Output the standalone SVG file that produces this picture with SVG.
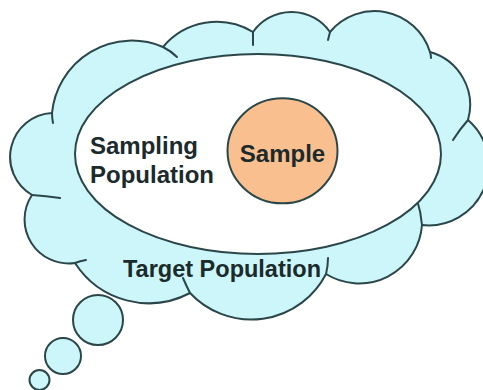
<svg xmlns="http://www.w3.org/2000/svg" width="483" height="390" viewBox="0 0 483 390">
  <style>
    .outline { stroke: #2b4649; stroke-width: 2; stroke-linecap: round; stroke-linejoin: round; }
    .cloud { fill: #ccf6fa; }
    .tick { fill: none; }
    .label { font-family: "Liberation Sans", Arial, Helvetica, sans-serif; font-weight: bold; fill: #1b2a2b; }
  </style>
  <rect width="483" height="390" fill="#ffffff"/>

  <!-- thought bubbles trailing from the cloud -->
  <g id="bubbles">
    <circle class="cloud outline" cx="98" cy="320" r="25"/>
    <circle class="cloud outline" cx="63" cy="356" r="18"/>
    <circle class="cloud outline" cx="39.5" cy="380" r="10"/>
  </g>

  <!-- outer cloud: target population -->
  <g id="target-population">
    <path class="cloud outline" d="M 52 113
      A 80 80 0 0 1 163 47
      A 70 70 0 0 1 253 32
      A 47 47 0 0 1 330 32
      A 58 58 0 0 1 430 52
      A 55 55 0 0 1 468 120
      A 60 60 0 0 1 422 225
      A 63 63 0 0 1 326 274
      A 84 84 0 0 1 190 293
      A 88 88 0 0 1 75 263
      A 44 44 0 0 1 32 195
      A 44 44 0 0 1 52 113 Z"/>
    <!-- inner arc ends where the lobes meet -->
    <g class="tick outline">
      <path d="M 52 113 Q 52 118 53 123"/>
      <path d="M 163 47 Q 171 51 177 57"/>
      <path d="M 253 32 Q 253 38 253 45"/>
      <path d="M 330 32 Q 329 36 328 40"/>
      <path d="M 430 52 Q 431 55 431 58"/>
      <path d="M 468 120 Q 460 129 453 140"/>
      <path d="M 422 225 Q 421 212 417 200"/>
      <path d="M 326 274 Q 328 266 328 258"/>
      <path d="M 190 293 Q 186 285 183 278"/>
      <path d="M 75 263 Q 80 261 86 260"/>
      <path d="M 32 195 Q 46 196 60 198"/>
    </g>
    <text class="label" x="123" y="277" font-size="23.5">Target Population</text>
  </g>

  <!-- inner ellipse: sampling population -->
  <g id="sampling-population">
    <ellipse class="outline" cx="258" cy="154" rx="183" ry="100" fill="#ffffff"/>
    <text class="label" x="90" y="154" font-size="24">Sampling</text>
    <text class="label" x="90" y="183" font-size="24">Population</text>
  </g>

  <!-- sample circle -->
  <g id="sample">
    <ellipse class="outline" cx="282.5" cy="150.8" rx="55" ry="52.5" fill="#f9bf8f"/>
    <text class="label" x="282.5" y="162" font-size="24" text-anchor="middle">Sample</text>
  </g>
</svg>
